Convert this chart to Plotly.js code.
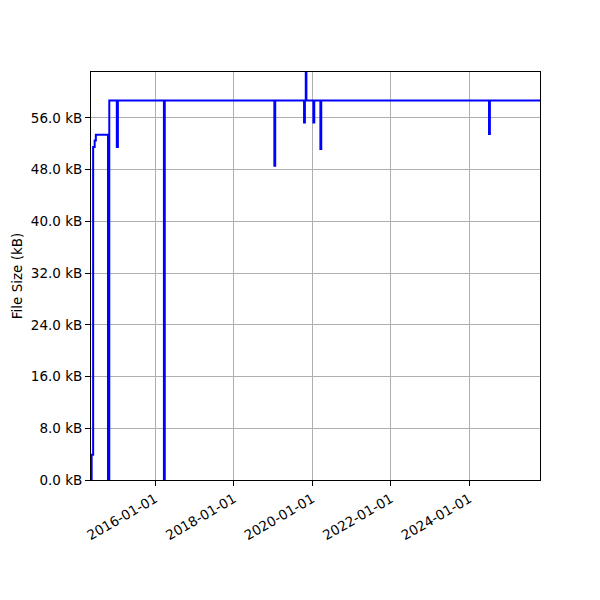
<!DOCTYPE html>
<html>
<head>
<meta charset="utf-8">
<script src="https://cdn.plot.ly/plotly-3.0.1.min.js"></script>
<style>html,body{margin:0;padding:0;background:#fff;}#chart{width:600px;height:600px;}</style>
</head>
<body>
<div id="chart"></div>
<script>
// Commit dates and file sizes (kB)
const dates = [
  '2014-05-14','2014-05-20','2014-06-03','2014-06-17','2014-06-28',
  '2014-10-19','2014-10-31',
  '2015-01-09','2015-01-19',
  '2016-03-22','2016-03-30',
  '2019-01-13','2019-01-21',
  '2019-10-16','2019-10-24',
  '2019-11-01','2019-11-07',
  '2020-01-11','2020-01-19',
  '2020-03-16','2020-03-24',
  '2024-07-01','2024-07-09',
  '2025-10-18'
];
const sizesKB = [
  0, 3.9, 51.5, 52.5, 53.4,
  0, 58.7,
  51.5, 58.7,
  0, 58.7,
  48.6, 58.7,
  55.3, 58.7,
  66.0, 58.7,
  55.3, 58.7,
  51.2, 58.7,
  53.5, 58.7,
  58.7
];
const yTickVals = [0, 8, 16, 24, 32, 40, 48, 56];
const yTickText = yTickVals.map(v => v.toFixed(1) + ' kB');
const xTickVals = ['2016-01-01','2018-01-01','2020-01-01','2022-01-01','2024-01-01'];
const xRange = ['2014-05-14', '2025-10-18'];
const yRange = [0, 63.1];

const font = {family: 'DejaVu Sans, sans-serif', size: 13.5, color: '#000'};

Plotly.newPlot('chart', [{
  x: dates, y: sizesKB, type: 'scatter', mode: 'lines',
  line: {color: '#0000ff', width: 2, shape: 'hv'},
  hoverinfo: 'skip'
}], {
  width: 600, height: 600,
  margin: {l: 91, r: 60, t: 72, b: 120, pad: 0},
  paper_bgcolor: '#fff', plot_bgcolor: '#fff',
  showlegend: false,
  font: font,
  xaxis: {
    type: 'date', range: xRange,
    tickvals: xTickVals, ticktext: xTickVals,
    tickangle: -30,
    showgrid: true, gridcolor: '#b0b0b0', gridwidth: 1,
    showline: true, linecolor: '#000', linewidth: 1, mirror: true,
    ticks: 'outside', ticklen: 5, tickcolor: '#000', tickwidth: 1,
    zeroline: false, tickfont: font
  },
  yaxis: {
    range: yRange,
    tickvals: yTickVals, ticktext: yTickText,
    showgrid: true, gridcolor: '#b0b0b0', gridwidth: 1,
    showline: true, linecolor: '#000', linewidth: 1, mirror: true,
    ticks: 'outside', ticklen: 5, tickcolor: '#000', tickwidth: 1,
    zeroline: false, tickfont: font,
    title: {text: 'File Size (kB)', font: font, standoff: 5}
  }
}, {staticPlot: true});
</script>
</body>
</html>
